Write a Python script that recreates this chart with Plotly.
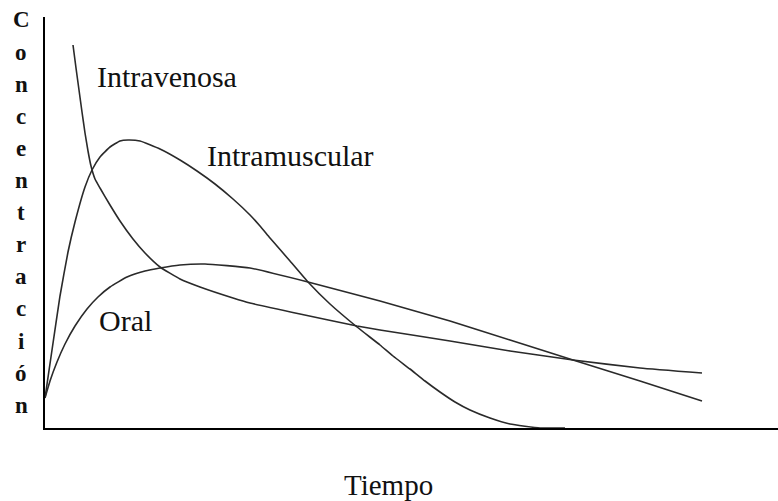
import plotly.graph_objects as go

# Data (arbitrary units)
iv_t = [28, 31, 34, 37, 40, 43, 46, 50, 55, 65, 75, 88, 100, 115, 135, 155, 188, 205, 255, 312, 335, 405, 465, 528, 595, 657]
iv_c = [383, 360, 338, 316, 295, 277, 262, 249, 240, 223, 207, 189, 175, 161, 149, 141, 130, 125, 114, 102, 98, 87, 77, 68, 60, 55]

im_t = [0, 7, 15, 23, 30, 40, 47, 55, 65, 75, 83, 95, 115, 135, 152, 170, 188, 205, 215, 225, 245, 263,
        285, 312, 335, 348, 365, 380, 395, 410, 425, 445, 465, 495, 520]
im_c = [30, 78, 132, 176, 206, 241, 258, 271, 281, 287, 288, 287, 279, 268, 257, 244, 229, 213, 202, 190,
        167, 146, 124, 101, 83, 72, 59, 47, 36, 26, 18, 10, 4, 0, 0]

or_t = [0, 5, 12, 20, 30, 42, 53, 65, 82, 100, 115, 135, 160, 205, 263, 335, 405, 465, 528, 595, 657]
or_c = [30, 47, 66, 84, 102, 119, 131, 141, 151, 157, 160, 163, 164, 160, 146, 127, 107, 88, 68, 47, 27]

labels = ["Intravenosa", "Intramuscular", "Oral"]
label_t = [50, 160, 52]
label_c = [352, 273, 108]

y_title = "Concentración"
x_title = "Tiempo"

W, H = 778, 501
L, R, T, B = 45, 0, 17, 73
XMAX, YMAX = 733, 411

line_style = dict(color="#2a2a2a", width=1.6, shape="spline", smoothing=0.4)

fig = go.Figure()
for t, c in [(iv_t, iv_c), (im_t, im_c), (or_t, or_c)]:
    fig.add_trace(go.Scatter(x=t, y=c, mode="lines", line=line_style,
                             hoverinfo="skip", showlegend=False))

serif = "Liberation Serif, Times New Roman, serif"
annotations = []
for txt, xt, yc in zip(labels, label_t, label_c):
    annotations.append(dict(text=txt, x=xt, y=yc, xref="x", yref="y",
                            xanchor="left", yanchor="middle", showarrow=False,
                            font=dict(family=serif, size=30, color="#111111")))

# vertical stacked y-axis title
def px_to_paper(px, py):
    return (px - L) / XMAX, (H - B - py) / YMAX

for i, ch in enumerate(y_title):
    xp, yp = px_to_paper(21, 20 + i * 32.1)
    annotations.append(dict(text="<b>" + ch + "</b>", x=xp, y=yp, xref="paper", yref="paper",
                            xanchor="center", yanchor="middle", showarrow=False,
                            font=dict(family=serif, size=23, color="#111111")))
xp, yp = px_to_paper(388, 485)
annotations.append(dict(text=x_title, x=xp, y=yp, xref="paper", yref="paper",
                        xanchor="center", yanchor="middle", showarrow=False,
                        font=dict(family=serif, size=29, color="#111111")))

axis_common = dict(showgrid=False, zeroline=False, showticklabels=False, ticks="",
                   showline=True, linecolor="#000000", linewidth=2, fixedrange=True)

fig.update_layout(
    width=W, height=H,
    margin=dict(l=L, r=R, t=T, b=B),
    paper_bgcolor="white", plot_bgcolor="white",
    xaxis=dict(range=[0, XMAX], **axis_common),
    yaxis=dict(range=[0, YMAX], **axis_common),
    annotations=annotations,
)

fig.write_html("out.html", config={"displayModeBar": False},
               post_script="document.body.style.margin='0';")
